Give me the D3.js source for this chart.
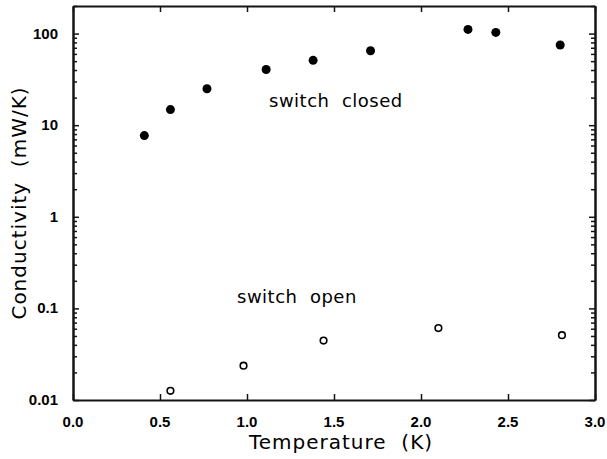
<!DOCTYPE html>
<html>
<head>
<meta charset="utf-8">
<script src="https://cdn.jsdelivr.net/npm/d3@7"></script>
<style>
  body { margin: 0; background: #fff; }
  svg { display: block; }
  .tick-label { font-family: "Liberation Sans", Arial, sans-serif; font-weight: bold; font-size: 15px; }
  .title { font-family: "DejaVu Sans", sans-serif; font-size: 20px; letter-spacing: 1px; white-space: pre; }
  .note { font-family: "DejaVu Sans", sans-serif; font-size: 18px; letter-spacing: 0.5px; white-space: pre; }
</style>
</head>
<body>
<svg width="607" height="459"></svg>
<script>
// switch closed (filled)
var closedT = [0.41, 0.56, 0.77, 1.11, 1.38, 1.71, 2.27, 2.43, 2.80];
var closedK = [7.7, 14.8, 25, 40.5, 51, 65, 111, 103, 75];
// switch open (hollow)
var openT = [0.56, 0.98, 1.44, 2.10, 2.81];
var openK = [0.0126, 0.0237, 0.0445, 0.061, 0.051];

var xTicks = [0, 0.5, 1.0, 1.5, 2.0, 2.5, 3.0];
var yTicks = [0.01, 0.1, 1, 10, 100];
var yTickLabels = ["0.01", "0.1", "1", "10", "100"];

var svg = d3.select("svg");
var margin = {left: 73, right: 12, top: 6, bottom: 59};
var W = 607, H = 459;
var ink = "#141414";

var x = d3.scaleLinear().domain([0, 3]).range([margin.left, W - margin.right]);
var y = d3.scaleLog().domain([0.01, 200]).range([H - margin.bottom, margin.top]);

var x0 = x.range()[0], x1 = x.range()[1], y0 = y.range()[1], y1 = y.range()[0];

// minor ticks for log axis
var minor = [];
yTicks.forEach(function(d) {
    for (var k = 2; k <= 9; k++) {
        if (d * k <= 200) minor.push(d * k);
    }
});

// axes drawn with d3.axis on all four sides, ticks inward, labels added below
function styleAxis(sel) {
    sel.selectAll("text").remove();
    sel.selectAll("path, line").attr("stroke", ink).attr("stroke-width", 1.5);
    sel.select(".domain").attr("stroke-width", 2);
}
svg.append("g").attr("transform", "translate(0," + y1 + ")")
    .call(d3.axisTop(x).tickValues(xTicks).tickSize(6).tickSizeOuter(0)).call(styleAxis);
svg.append("g").attr("transform", "translate(0," + y0 + ")")
    .call(d3.axisBottom(x).tickValues(xTicks).tickSize(6).tickSizeOuter(0)).call(styleAxis);
svg.append("g").attr("transform", "translate(" + x0 + ",0)")
    .call(d3.axisRight(y).tickValues(minor).tickSize(4).tickSizeOuter(0)).call(styleAxis);
svg.append("g").attr("transform", "translate(" + x0 + ",0)")
    .call(d3.axisRight(y).tickValues(yTicks).tickSize(6).tickSizeOuter(0)).call(styleAxis);
svg.append("g").attr("transform", "translate(" + x1 + ",0)")
    .call(d3.axisLeft(y).tickValues(minor).tickSize(4).tickSizeOuter(0)).call(styleAxis);
svg.append("g").attr("transform", "translate(" + x1 + ",0)")
    .call(d3.axisLeft(y).tickValues(yTicks).tickSize(6).tickSizeOuter(0)).call(styleAxis);

// tick labels
svg.selectAll(".xl").data(xTicks).enter().append("text")
    .attr("class", "tick-label")
    .attr("x", function(d) { return x(d); })
    .attr("y", y1 + 27)
    .attr("text-anchor", "middle")
    .text(function(d) { return d3.format(".1f")(d); });

svg.selectAll(".yl").data(yTicks).enter().append("text")
    .attr("class", "tick-label")
    .attr("x", x0 - 15)
    .attr("y", function(d) { return y(d) + 5; })
    .attr("text-anchor", "end")
    .text(function(d, i) { return yTickLabels[i]; });

// axis titles
svg.append("text").attr("class", "title")
    .attr("x", 341)
    .attr("y", 449)
    .attr("text-anchor", "middle")
    .text("Temperature  (K)");

svg.append("text").attr("class", "title")
    .attr("transform", "translate(26,203) rotate(-90)")
    .attr("text-anchor", "middle")
    .text("Conductivity  (mW/K)");

// points
svg.selectAll(".closed").data(closedT).enter().append("circle")
    .attr("cx", function(d) { return x(d); })
    .attr("cy", function(d, i) { return y(closedK[i]); })
    .attr("r", 4.5).attr("fill", "#000");

svg.selectAll(".open").data(openT).enter().append("circle")
    .attr("cx", function(d) { return x(d); })
    .attr("cy", function(d, i) { return y(openK[i]); })
    .attr("r", 3.3).attr("fill", "none").attr("stroke", "#000").attr("stroke-width", 1.6);

// notes
svg.append("text").attr("class", "note")
    .attr("x", 269).attr("y", 107).text("switch  closed");
svg.append("text").attr("class", "note")
    .attr("x", 237).attr("y", 303).text("switch  open");
</script>
</body>
</html>
